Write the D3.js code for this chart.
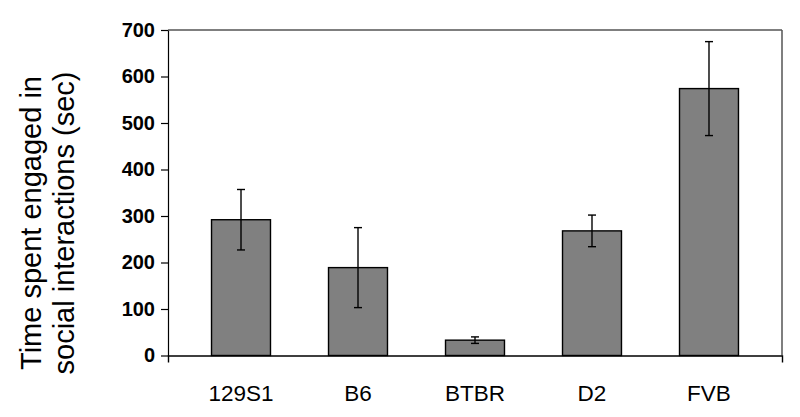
<!DOCTYPE html>
<html>
<head>
<meta charset="utf-8">
<script src="https://cdn.jsdelivr.net/npm/d3@7"></script>
<style>
    body { margin: 0; background: #fff; }
    svg { display: block; font-family: "Liberation Sans", Arial, sans-serif; }
    .y-axis text { font-size: 20px; font-weight: bold; fill: #000; }
    .x-axis text { font-size: 22.5px; fill: #000; }
    .axis-title { font-size: 29px; fill: #000; }
    .bar-fill { fill: #808080; stroke: #000; stroke-width: 1.4; }
    .err { stroke: #000; stroke-width: 1.4; }
</style>
</head>
<body>
<div id="chart"></div>
<script>
const strains = ['129S1', 'B6', 'BTBR', 'D2', 'FVB'];
const meanTime = [292, 189, 33, 268, 574];
const errTime = [65, 86, 7, 34, 101];
const yTicks = [0, 100, 200, 300, 400, 500, 600, 700];
const yTitle = ['Time spent engaged in', 'social interactions (sec)'];

const width = 800, height = 417;
const plotLeft = 168, plotRight = 782, plotTop = 30, plotBottom = 355.5;

const svg = d3.select('#chart')
    .append('svg')
    .attr('width', width)
    .attr('height', height);

let xScale = d3.scaleBand()
    .domain(strains)
    .range([plotLeft, plotRight])
    .paddingInner(0.496)
    .paddingOuter(0.372);

let yScale = d3.scaleLinear()
    .domain([0, 700])
    .range([plotBottom, plotTop]);

// frame: top and right lines
svg.append('line')
    .attr('x1', plotLeft).attr('x2', plotRight)
    .attr('y1', plotTop).attr('y2', plotTop)
    .attr('stroke', '#000').attr('stroke-width', 1.2);
svg.append('line')
    .attr('x1', plotRight).attr('x2', plotRight)
    .attr('y1', plotTop).attr('y2', plotBottom)
    .attr('stroke', '#555').attr('stroke-width', 1.5);

svg.selectAll('rect.bar-fill')
    .data(meanTime)
    .enter()
    .append('rect')
    .attr('class', 'bar-fill')
    .attr('x', (d, i) => xScale(strains[i]))
    .attr('y', d => yScale(d))
    .attr('width', xScale.bandwidth())
    .attr('height', d => plotBottom - yScale(d));

// error bars
let capHalf = 4;
let errG = svg.append('g');
meanTime.forEach((d, i) => {
    let cx = xScale(strains[i]) + xScale.bandwidth() / 2;
    let y1 = yScale(d + errTime[i]), y2 = yScale(d - errTime[i]);
    errG.append('line').attr('class', 'err')
        .attr('x1', cx).attr('x2', cx).attr('y1', y1).attr('y2', y2);
    errG.append('line').attr('class', 'err')
        .attr('x1', cx - capHalf).attr('x2', cx + capHalf).attr('y1', y1).attr('y2', y1);
    errG.append('line').attr('class', 'err')
        .attr('x1', cx - capHalf).attr('x2', cx + capHalf).attr('y1', y2).attr('y2', y2);
});

svg.append('g')
    .attr('class', 'x-axis')
    .attr('transform', 'translate(0,' + plotBottom + ')')
    .call(d3.axisBottom(xScale).tickSizeInner(0).tickSizeOuter(7).tickPadding(30))
    .call(g => g.selectAll('path, line').attr('stroke', '#000').attr('stroke-width', 1.4))
    .call(g => g.selectAll('text').attr('font-family', null).attr('font-size', null));

svg.append('g')
    .attr('class', 'y-axis')
    .attr('transform', 'translate(' + plotLeft + ',0)')
    .call(d3.axisLeft(yScale).tickValues(yTicks).tickSizeInner(7).tickSizeOuter(0).tickPadding(6))
    .call(g => g.selectAll('path, line').attr('stroke', '#000').attr('stroke-width', 1.2))
    .call(g => g.selectAll('text').attr('font-family', null).attr('font-size', null));

// y axis title, two lines
svg.append('text')
    .attr('class', 'axis-title')
    .attr('transform', 'translate(41,223) rotate(-90)')
    .attr('text-anchor', 'middle')
    .selectAll('tspan')
    .data(yTitle)
    .enter()
    .append('tspan')
    .attr('x', 0)
    .attr('y', (d, i) => i * 32.5)
    .text(d => d);
</script>
</body>
</html>
